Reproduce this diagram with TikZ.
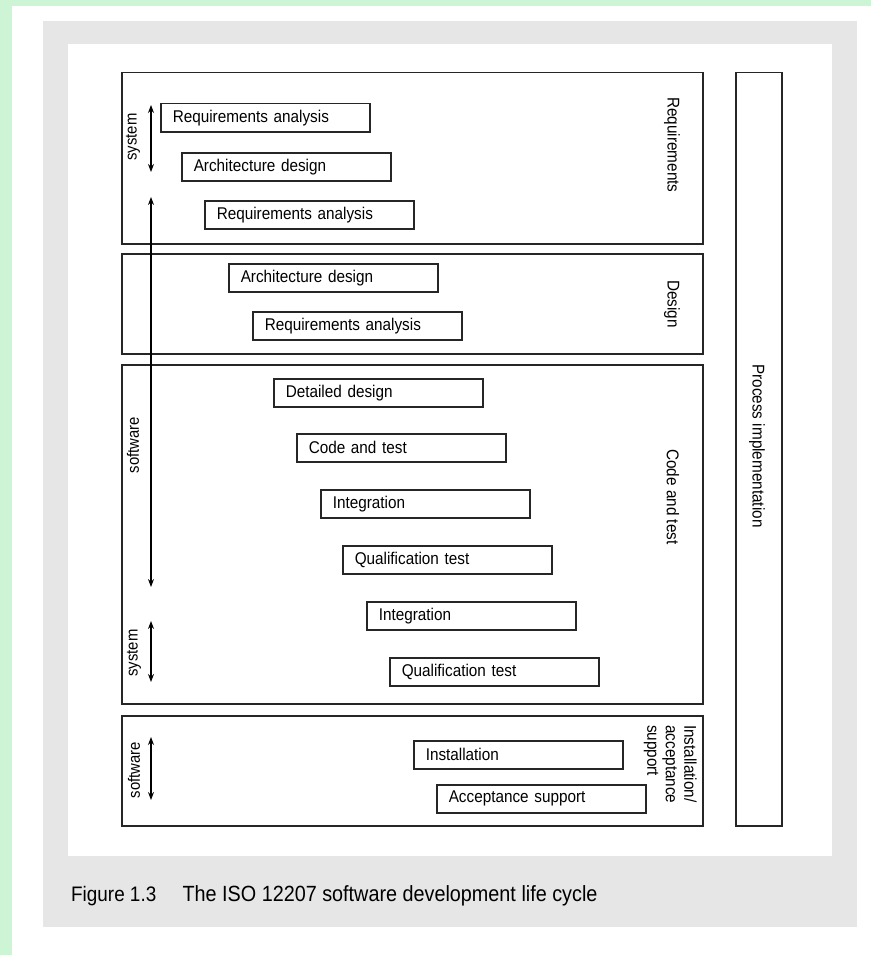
\documentclass[tikz,border=0pt]{standalone}
\usepackage{fontspec}
\setmainfont{Liberation Sans}[FakeStretch=0.9]
\usepackage{xcolor}
\usetikzlibrary{arrows.meta,positioning}
\definecolor{pagegreen}{HTML}{CDF5D5}
\definecolor{panelgray}{HTML}{E6E6E6}

\begin{document}
\begin{tikzpicture}[
    x=1pt, y=-1pt,
    phase/.style={rectangle, draw=black!85, line width=1.5pt, anchor=north west, minimum width=581pt},
    activity/.style={rectangle, draw=black!85, line width=1.5pt, anchor=north west, text width=185pt, inner xsep=12pt, inner ysep=0pt, minimum height=28pt, align=left, font=\fontsize{17}{19}\selectfont},
    phaselabel/.style={rotate=-90, font=\fontsize{17}{18.5}\selectfont},
    scopelabel/.style={rotate=90, font=\fontsize{16.5}{18}\selectfont},
    arrow/.style={{Stealth[length=8pt,width=6pt]}-{Stealth[length=8pt,width=6pt]}, line width=1.2pt}
]
    \useasboundingbox (0,0) rectangle (871,955);
    \fill[pagegreen] (0,0) rectangle (871,955);
    \fill[white] (12,6) rectangle (871,955);
    \fill[panelgray] (43,21) rectangle (857,927);
    \fill[white] (68,44) rectangle (832,856);

    % phases
    \node[phase, minimum height=171pt] (reqPhase) at (121,72) {};
    \node[phase, minimum height=100pt] (designPhase) at (121,253) {};
    \node[phase, minimum height=339pt] (codePhase) at (121,364) {};
    \node[phase, minimum height=110pt] (installPhase) at (121,715) {};
    \node[phase, minimum width=46pt, minimum height=753pt] (processPhase) at (735,72) {};

    \node[phaselabel] (reqLabel) at (672,145) {Requirements};
    \node[phaselabel] (designLabel) at (672,304) {Design};
    \node[phaselabel] (codeLabel) at (673,497) {Code and test};
    \node[phaselabel, anchor=north west, align=left, inner sep=0pt] (installLabel) at (697,725) {Installation/\\acceptance\\support};
    \node[phaselabel] (processLabel) at (757,446) {Process implementation};

    % activities
    \node[activity] (sysReq) at (160,103) {Requirements analysis};
    \node[activity] (sysArch) at (181,152) {Architecture design};
    \node[activity] (swReq) at (204,200) {Requirements analysis};
    \node[activity] (swArch) at (228,263) {Architecture design};
    \node[activity] (swReq2) at (252,311) {Requirements analysis};
    \node[activity] (detail) at (273,378) {Detailed design};
    \node[activity] (codeTest) at (296,433) {Code and test};
    \node[activity] (swInteg) at (320,489) {Integration};
    \node[activity] (swQual) at (342,545) {Qualification test};
    \node[activity] (sysInteg) at (366,601) {Integration};
    \node[activity] (sysQual) at (389,657) {Qualification test};
    \node[activity] (install) at (413,740) {Installation};
    \node[activity] (accept) at (436,784) {Acceptance support};

    % scope arrows
    \coordinate (sysTopA) at (151,105);
    \coordinate (sysTopB) at (151,172);
    \coordinate (swTopA) at (151,197);
    \coordinate (swTopB) at (151,587);
    \coordinate (sysBotA) at (151,621);
    \coordinate (sysBotB) at (151,682);
    \coordinate (swBotA) at (151,737);
    \coordinate (swBotB) at (151,800);

    \draw[arrow] (sysTopA) -- (sysTopB);
    \draw[arrow] (swTopA) -- (swTopB);
    \draw[arrow] (sysBotA) -- (sysBotB);
    \draw[arrow] (swBotA) -- (swBotB);

    \node[scopelabel] (sysTopLabel) at (133,137) {system};
    \node[scopelabel] (swTopLabel) at (133,445) {software};
    \node[scopelabel] (sysBotLabel) at (134,653) {system};
    \node[scopelabel] (swBotLabel) at (134,770) {software};

    % caption
    \node[anchor=base west, inner sep=0pt, font=\fontsize{21}{23}\selectfont] (caption) at (71,901) {Figure 1.3\hspace{1.25em}{\fontsize{22}{23}\selectfont The ISO 12207 software development life cycle}};
\end{tikzpicture}
\end{document}
